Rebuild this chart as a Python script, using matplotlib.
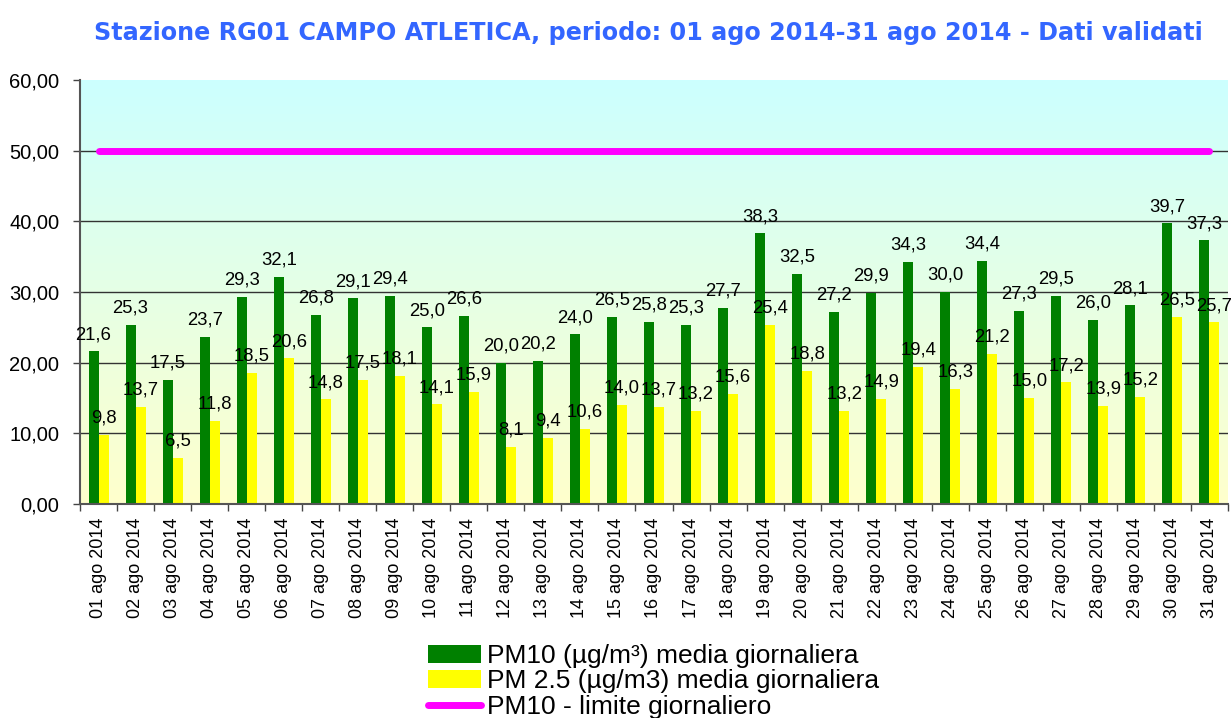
import matplotlib
matplotlib.use("Agg")
import matplotlib.pyplot as plt
import numpy as np
from matplotlib.patches import Patch
from matplotlib.lines import Line2D

days = [f"{d:02d} ago 2014" for d in range(1, 32)]
pm10 = [21.6, 25.3, 17.5, 23.7, 29.3, 32.1, 26.8, 29.1, 29.4, 25.0, 26.6, 20.0, 20.2, 24.0, 26.5, 25.8,
        25.3, 27.7, 38.3, 32.5, 27.2, 29.9, 34.3, 30.0, 34.4, 27.3, 29.5, 26.0, 28.1, 39.7, 37.3]
pm25 = [9.8, 13.7, 6.5, 11.8, 18.5, 20.6, 14.8, 17.5, 18.1, 14.1, 15.9, 8.1, 9.4, 10.6, 14.0, 13.7,
        13.2, 15.6, 25.4, 18.8, 13.2, 14.9, 19.4, 16.3, 21.2, 15.0, 17.2, 13.9, 15.2, 26.5, 25.7]
limit = [50.0] * 31
yticks = [0, 10, 20, 30, 40, 50, 60]

plt.rcParams['font.family'] = ['Liberation Sans', 'DejaVu Sans']

fig = plt.figure(figsize=(12.32, 7.18), dpi=100)
ax = fig.add_axes([80/1232, 1-504/718, (1228-80)/1232, (504-80)/718])

x = np.arange(len(days))
n = len(days)
ax.set_xlim(-0.5, n - 0.5)
ax.set_ylim(0, 60)

# gradient background
grad = np.linspace(0, 1, 256).reshape(-1, 1)
top = np.array([204, 255, 255]) / 255
bot = np.array([255, 255, 204]) / 255
img = top[None, None, :] * (1 - grad[:, :, None]) + bot[None, None, :] * grad[:, :, None]
ax.imshow(img, extent=[-0.5, n - 0.5, 0, 60], aspect='auto', zorder=0, origin='upper')

for yv in yticks[1:-1]:
    ax.axhline(yv, color='#333333', lw=1.0, zorder=1)

w = 0.27
ax.bar(x - w/2, pm10, width=w, color='#008000', zorder=2)
ax.bar(x + w/2, pm25, width=w, color='#FFFF00', zorder=2)
ax.plot(x, limit, color='#FF00FF', lw=5, solid_capstyle='round', zorder=3)

def fmt(v):
    return f"{v:.1f}".replace('.', ',')

for i in range(n):
    ax.annotate(fmt(pm10[i]), (x[i] - w/2, pm10[i]), xytext=(0, 6), textcoords='offset points',
                ha='center', va='bottom', fontsize=13.3, zorder=4)
    ax.annotate(fmt(pm25[i]), (x[i] + w/2, pm25[i]), xytext=(0, 6), textcoords='offset points',
                ha='center', va='bottom', fontsize=13.3, zorder=4)

ax.set_yticks(yticks)
ax.set_yticklabels([f"{v:.2f}".replace('.', ',') for v in yticks], fontsize=14.5)
ax.set_xticks(x)
ax.set_xticklabels(days, rotation=90, fontsize=13)
ax.tick_params(axis='x', which='major', length=0, pad=10)
ax.set_xticks(np.arange(-0.5, n, 1), minor=True)
ax.tick_params(axis='x', which='minor', length=5, width=1, color='#444444')
ax.tick_params(axis='y', length=5, width=1, color='#444444', pad=10)
for s in ['top', 'right']:
    ax.spines[s].set_visible(False)
for s in ['left', 'bottom']:
    ax.spines[s].set_color('#555555')
    ax.spines[s].set_linewidth(1.5)

fig.text(648/1232, 1 - 33/718, "Stazione RG01 CAMPO ATLETICA, periodo: 01 ago 2014-31 ago 2014 - Dati validati",
         ha='center', va='center', fontsize=17.2, fontweight='bold', color='#3366FF',
         family=['DejaVu Sans'])

handles = [Patch(facecolor='#008000', edgecolor='none'),
           Patch(facecolor='#FFFF00', edgecolor='none'),
           Line2D([0], [0], color='#FF00FF', lw=5, solid_capstyle='round')]
labels = ["PM10 (µg/m³) media giornaliera", "PM 2.5 (µg/m3) media giornaliera", "PM10 - limite giornaliero"]
fig.legend(handles, labels, loc='upper left', bbox_to_anchor=(428/1232, 1 - 644/718), frameon=False,
           fontsize=19, handlelength=2.0, handleheight=0.65, labelspacing=0.05, handletextpad=0.25,
           borderpad=0, borderaxespad=0)

fig.savefig("out.png", dpi=100)
